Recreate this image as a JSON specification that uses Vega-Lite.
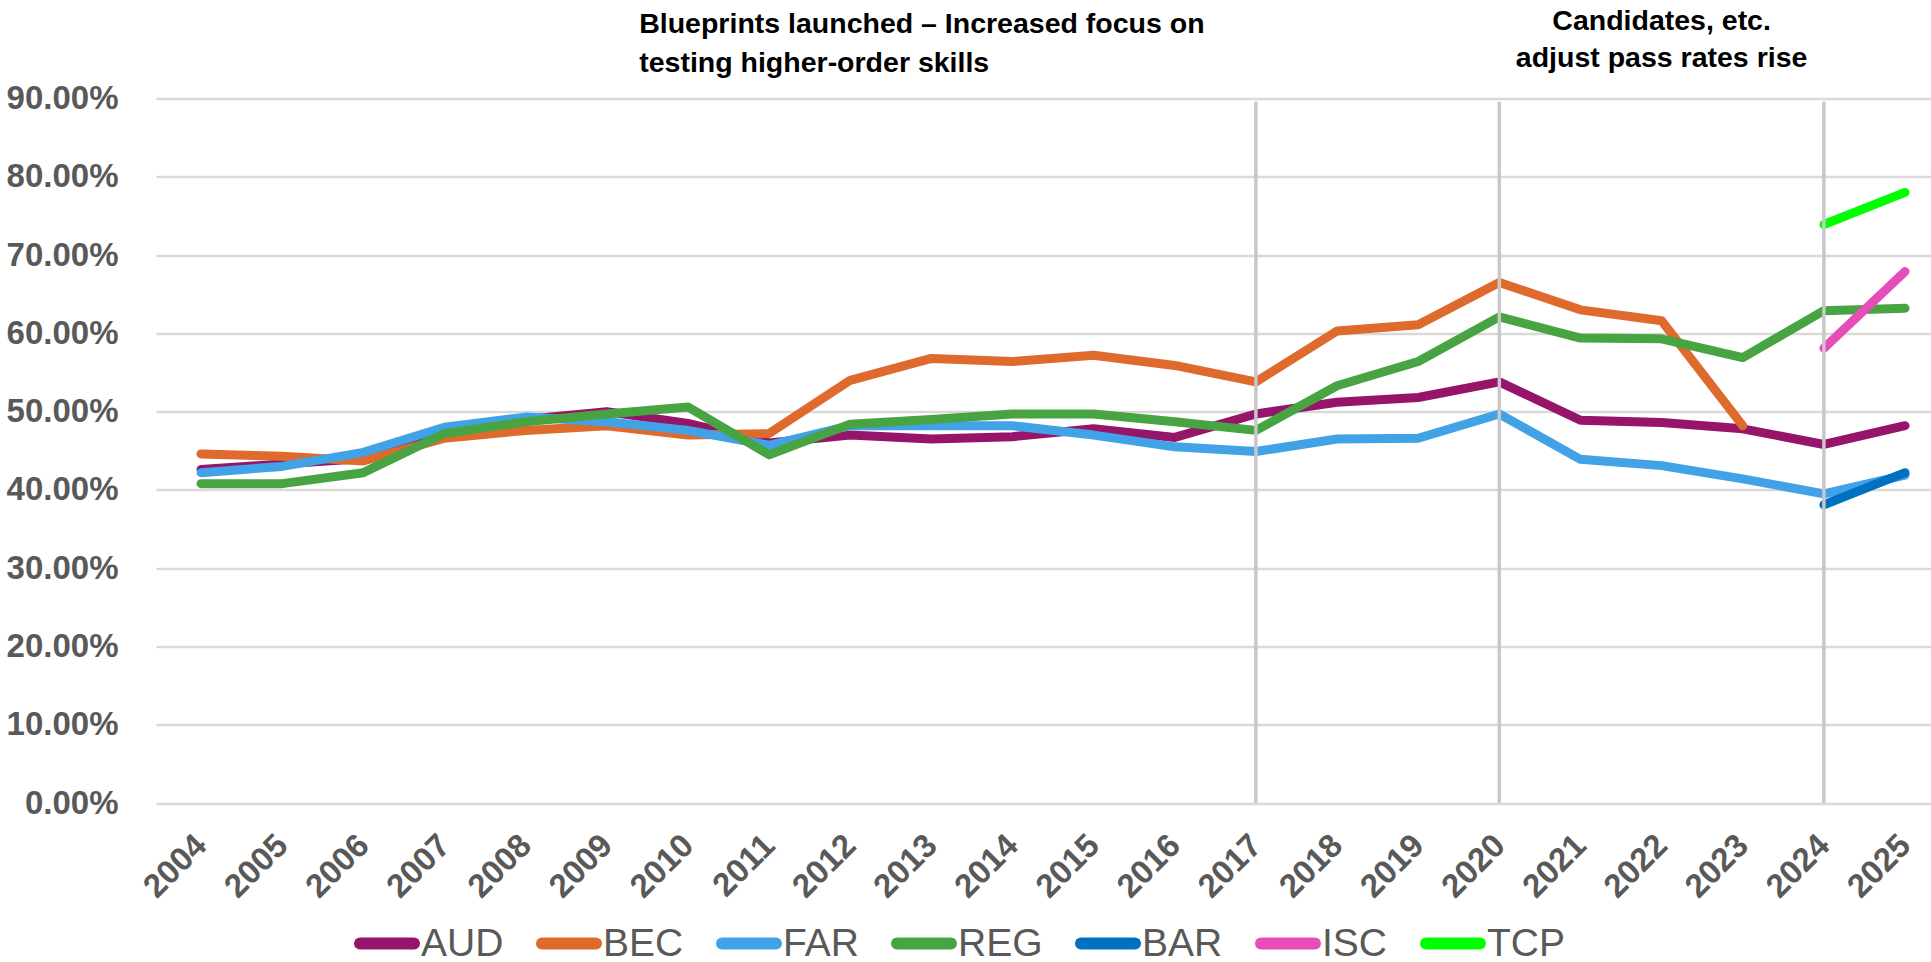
{
  "$schema": "https://vega.github.io/schema/vega-lite/v6.json",
  "width": 1775,
  "height": 704.5,
  "autosize": {"type": "none"},
  "padding": {"left": 156, "top": 98.5, "right": 0, "bottom": 159},
  "background": "white",
  "config": {"view": {"stroke": null}, "font": "Liberation Sans"},
  "datasets": {
    "rates": [
      {"year": 2004, "section": "AUD", "rate": 0.426}, {"year": 2005, "section": "AUD", "rate": 0.433}, {"year": 2006, "section": "AUD", "rate": 0.440}, {"year": 2007, "section": "AUD", "rate": 0.470}, {"year": 2008, "section": "AUD", "rate": 0.490}, {"year": 2009, "section": "AUD", "rate": 0.500}, {"year": 2010, "section": "AUD", "rate": 0.485}, {"year": 2011, "section": "AUD", "rate": 0.460}, {"year": 2012, "section": "AUD", "rate": 0.470}, {"year": 2013, "section": "AUD", "rate": 0.465}, {"year": 2014, "section": "AUD", "rate": 0.468}, {"year": 2015, "section": "AUD", "rate": 0.478}, {"year": 2016, "section": "AUD", "rate": 0.467}, {"year": 2017, "section": "AUD", "rate": 0.497}, {"year": 2018, "section": "AUD", "rate": 0.512}, {"year": 2019, "section": "AUD", "rate": 0.518}, {"year": 2020, "section": "AUD", "rate": 0.538}, {"year": 2021, "section": "AUD", "rate": 0.489}, {"year": 2022, "section": "AUD", "rate": 0.486}, {"year": 2023, "section": "AUD", "rate": 0.478}, {"year": 2024, "section": "AUD", "rate": 0.458}, {"year": 2025, "section": "AUD", "rate": 0.482},
      {"year": 2004, "section": "BEC", "rate": 0.446}, {"year": 2005, "section": "BEC", "rate": 0.443}, {"year": 2006, "section": "BEC", "rate": 0.437}, {"year": 2007, "section": "BEC", "rate": 0.466}, {"year": 2008, "section": "BEC", "rate": 0.476}, {"year": 2009, "section": "BEC", "rate": 0.482}, {"year": 2010, "section": "BEC", "rate": 0.470}, {"year": 2011, "section": "BEC", "rate": 0.472}, {"year": 2012, "section": "BEC", "rate": 0.540}, {"year": 2013, "section": "BEC", "rate": 0.568}, {"year": 2014, "section": "BEC", "rate": 0.564}, {"year": 2015, "section": "BEC", "rate": 0.572}, {"year": 2016, "section": "BEC", "rate": 0.559}, {"year": 2017, "section": "BEC", "rate": 0.538}, {"year": 2018, "section": "BEC", "rate": 0.603}, {"year": 2019, "section": "BEC", "rate": 0.611}, {"year": 2020, "section": "BEC", "rate": 0.665}, {"year": 2021, "section": "BEC", "rate": 0.630}, {"year": 2022, "section": "BEC", "rate": 0.616}, {"year": 2023, "section": "BEC", "rate": 0.482},
      {"year": 2004, "section": "FAR", "rate": 0.422}, {"year": 2005, "section": "FAR", "rate": 0.430}, {"year": 2006, "section": "FAR", "rate": 0.448}, {"year": 2007, "section": "FAR", "rate": 0.480}, {"year": 2008, "section": "FAR", "rate": 0.493}, {"year": 2009, "section": "FAR", "rate": 0.487}, {"year": 2010, "section": "FAR", "rate": 0.476}, {"year": 2011, "section": "FAR", "rate": 0.457}, {"year": 2012, "section": "FAR", "rate": 0.482}, {"year": 2013, "section": "FAR", "rate": 0.482}, {"year": 2014, "section": "FAR", "rate": 0.482}, {"year": 2015, "section": "FAR", "rate": 0.470}, {"year": 2016, "section": "FAR", "rate": 0.455}, {"year": 2017, "section": "FAR", "rate": 0.449}, {"year": 2018, "section": "FAR", "rate": 0.465}, {"year": 2019, "section": "FAR", "rate": 0.466}, {"year": 2020, "section": "FAR", "rate": 0.497}, {"year": 2021, "section": "FAR", "rate": 0.439}, {"year": 2022, "section": "FAR", "rate": 0.431}, {"year": 2023, "section": "FAR", "rate": 0.414}, {"year": 2024, "section": "FAR", "rate": 0.395}, {"year": 2025, "section": "FAR", "rate": 0.419},
      {"year": 2004, "section": "REG", "rate": 0.408}, {"year": 2005, "section": "REG", "rate": 0.408}, {"year": 2006, "section": "REG", "rate": 0.422}, {"year": 2007, "section": "REG", "rate": 0.472}, {"year": 2008, "section": "REG", "rate": 0.487}, {"year": 2009, "section": "REG", "rate": 0.497}, {"year": 2010, "section": "REG", "rate": 0.506}, {"year": 2011, "section": "REG", "rate": 0.445}, {"year": 2012, "section": "REG", "rate": 0.484}, {"year": 2013, "section": "REG", "rate": 0.490}, {"year": 2014, "section": "REG", "rate": 0.497}, {"year": 2015, "section": "REG", "rate": 0.497}, {"year": 2016, "section": "REG", "rate": 0.487}, {"year": 2017, "section": "REG", "rate": 0.476}, {"year": 2018, "section": "REG", "rate": 0.533}, {"year": 2019, "section": "REG", "rate": 0.564}, {"year": 2020, "section": "REG", "rate": 0.621}, {"year": 2021, "section": "REG", "rate": 0.594}, {"year": 2022, "section": "REG", "rate": 0.593}, {"year": 2023, "section": "REG", "rate": 0.569}, {"year": 2024, "section": "REG", "rate": 0.629}, {"year": 2025, "section": "REG", "rate": 0.632},
      {"year": 2024, "section": "BAR", "rate": 0.381}, {"year": 2025, "section": "BAR", "rate": 0.422},
      {"year": 2024, "section": "ISC", "rate": 0.581}, {"year": 2025, "section": "ISC", "rate": 0.679},
      {"year": 2024, "section": "TCP", "rate": 0.739}, {"year": 2025, "section": "TCP", "rate": 0.780}
    ],
    "markers": [{"year": 2017}, {"year": 2020}, {"year": 2024}],
    "notes": [
      {"note": "blueprint", "year": 2009.4, "rate": 0.9836, "label": "Blueprints launched – Increased focus on\ntesting higher-order skills"},
      {"note": "candidates", "year": 2022.0, "rate": 0.9875, "label": "Candidates, etc.\nadjust pass rates rise"}
    ]
  },
  "layer": [
    {
      "data": {"name": "rates"},
      "mark": {"type": "line", "strokeWidth": 9, "strokeCap": "round", "strokeJoin": "round"},
      "encoding": {
        "x": {
          "field": "year", "type": "quantitative",
          "scale": {"domain": [2003.445, 2025.32], "nice": false, "zero": false},
          "axis": {
            "title": null, "values": [2004, 2005, 2006, 2007, 2008, 2009, 2010, 2011, 2012, 2013, 2014, 2015, 2016, 2017, 2018, 2019, 2020, 2021, 2022, 2023, 2024, 2025],
            "format": "d", "labelAngle": -45, "labelAlign": "right", "labelBaseline": "middle",
            "labelFontSize": 33, "labelFontWeight": "bold", "labelColor": "#595959", "labelFont": "Liberation Sans",
            "labelPadding": 37, "labelDx": -5, "grid": false, "ticks": false, "domain": false,
            "labelOverlap": false, "labelFlush": false, "labelBound": false
          }
        },
        "y": {
          "field": "rate", "type": "quantitative",
          "scale": {"domain": [0, 0.9], "nice": false, "zero": true},
          "axis": {
            "title": null, "values": [0, 0.1, 0.2, 0.3, 0.4, 0.5, 0.6, 0.7, 0.8, 0.9],
            "format": ".2%", "labelFontSize": 33, "labelFontWeight": "bold", "labelColor": "#595959", "labelFont": "Liberation Sans",
            "labelPadding": 38, "labelBaseline": "middle", "grid": true, "gridColor": "#D9D9D9", "gridWidth": 2.5,
            "ticks": false, "domain": false, "labelOverlap": false, "labelFlush": false, "labelBound": false
          }
        },
        "color": {
          "field": "section", "type": "nominal",
          "scale": {
            "domain": ["AUD", "BEC", "FAR", "REG", "BAR", "ISC", "TCP"],
            "range": ["#96156A", "#DF6A2E", "#41A3E6", "#48A442", "#0070C0", "#E64DB9", "#00FF00"]
          },
          "legend": {
            "title": null, "orient": "none", "legendX": 198, "legendY": 812, "direction": "horizontal",
            "symbolType": "stroke", "symbolSize": 2916, "symbolStrokeWidth": 12,
            "labelFontSize": 39, "labelColor": "#595959", "labelFont": "Liberation Sans", "labelOffset": 1,
            "columnPadding": 14,
            "encode": {"symbols": {"update": {"strokeCap": {"value": "round"}}}}
          }
        }
      }
    },
    {
      "data": {"name": "markers"},
      "mark": {"type": "rule", "color": "#C8C8C8", "strokeWidth": 3.5},
      "encoding": {
        "x": {"field": "year", "type": "quantitative", "scale": {"domain": [2003.445, 2025.32], "nice": false, "zero": false}},
        "y": {"datum": 0, "type": "quantitative", "scale": {"domain": [0, 0.9], "nice": false, "zero": true}},
        "y2": {"datum": 0.896}
      }
    },
    {
      "data": {"name": "notes"},
      "transform": [{"filter": "datum.note == 'blueprint'"}],
      "mark": {"type": "text", "align": "left", "baseline": "alphabetic", "fontSize": 28.5, "fontWeight": "bold", "font": "Liberation Sans", "color": "#000000", "lineBreak": "\n", "lineHeight": 39},
      "encoding": {
        "x": {"field": "year", "type": "quantitative", "scale": {"domain": [2003.445, 2025.32], "nice": false, "zero": false}},
        "y": {"field": "rate", "type": "quantitative", "scale": {"domain": [0, 0.9], "nice": false, "zero": true}},
        "text": {"field": "label"}
      }
    },
    {
      "data": {"name": "notes"},
      "transform": [{"filter": "datum.note == 'candidates'"}],
      "mark": {"type": "text", "align": "center", "baseline": "alphabetic", "fontSize": 28.5, "fontWeight": "bold", "font": "Liberation Sans", "color": "#000000", "lineBreak": "\n", "lineHeight": 37},
      "encoding": {
        "x": {"field": "year", "type": "quantitative", "scale": {"domain": [2003.445, 2025.32], "nice": false, "zero": false}},
        "y": {"field": "rate", "type": "quantitative", "scale": {"domain": [0, 0.9], "nice": false, "zero": true}},
        "text": {"field": "label"}
      }
    }
  ]
}
